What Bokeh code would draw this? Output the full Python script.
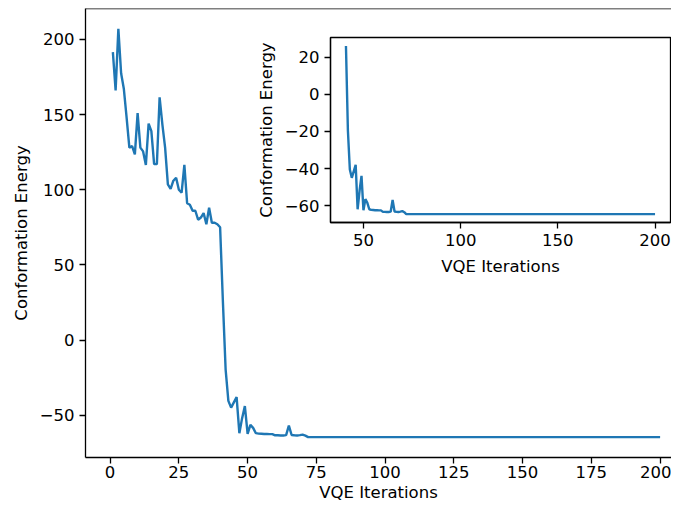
from bokeh.plotting import figure
from bokeh.models import Range1d, LinearAxis, FixedTicker, CustomJSTickFormatter
from bokeh.embed import file_html
from bokeh.resources import INLINE

# ---------------- data ----------------
iterations = list(range(1, 201))
energies = [
    191.5, 166.0, 207.0, 177.5, 167.0, 148.0, 128.0, 129.0, 123.5, 151.0,
    128.0, 125.5, 116.5, 144.0, 139.0, 117.0, 117.0, 161.5, 143.5, 128.0,
    103.5, 100.5, 106.0, 108.0, 100.0, 98.0, 116.5, 91.0, 90.0, 86.0,
    86.0, 80.0, 81.5, 84.5, 77.0, 88.0, 78.0, 78.0, 77.0, 75.0,
    26.2, -19.5, -40.5, -45.0, -41.5, -38.0, -62.0, -52.0, -44.0, -62.5,
    -56.5, -58.5, -62.0, -62.3, -62.4, -62.5, -62.5, -62.6, -62.6, -63.4,
    -63.4, -63.5, -63.5, -63.3, -57.0, -63.2, -63.4, -63.5, -63.3, -63.0,
    -63.6, -64.6, -64.6, -64.6, -64.6, -64.6, -64.6, -64.6, -64.6, -64.6,
    -64.6, -64.6, -64.6, -64.6, -64.6, -64.6, -64.6, -64.6, -64.6, -64.6,
    -64.6, -64.6, -64.6, -64.6, -64.6, -64.6, -64.6, -64.6, -64.6, -64.6,
    -64.6, -64.6, -64.6, -64.6, -64.6, -64.6, -64.6, -64.6, -64.6, -64.6,
    -64.6, -64.6, -64.6, -64.6, -64.6, -64.6, -64.6, -64.6, -64.6, -64.6,
    -64.6, -64.6, -64.6, -64.6, -64.6, -64.6, -64.6, -64.6, -64.6, -64.6,
    -64.6, -64.6, -64.6, -64.6, -64.6, -64.6, -64.6, -64.6, -64.6, -64.6,
    -64.6, -64.6, -64.6, -64.6, -64.6, -64.6, -64.6, -64.6, -64.6, -64.6,
    -64.6, -64.6, -64.6, -64.6, -64.6, -64.6, -64.6, -64.6, -64.6, -64.6,
    -64.6, -64.6, -64.6, -64.6, -64.6, -64.6, -64.6, -64.6, -64.6, -64.6,
    -64.6, -64.6, -64.6, -64.6, -64.6, -64.6, -64.6, -64.6, -64.6, -64.6,
    -64.6, -64.6, -64.6, -64.6, -64.6, -64.6, -64.6, -64.6, -64.6, -64.6,
    -64.6, -64.6, -64.6, -64.6, -64.6, -64.6, -64.6, -64.6, -64.6, -64.6,
]
main_xticks = [0, 25, 50, 75, 100, 125, 150, 175, 200]
main_yticks = [-50, 0, 50, 100, 150, 200]
inset_xticks = [50, 100, 150, 200]
inset_yticks = [-60, -40, -20, 0, 20]
inset_start = 40          # inset shows the iterations after the first 40
x_label = "VQE Iterations"
y_label = "Conformation Energy"

inset_x = iterations[inset_start:]
inset_y = energies[inset_start:]

# ---------------- layout constants (figure pixels) ----------------
FONT = "DejaVu Sans"
FS = "16.5px"
BLUE = "#1f77b4"
W, H = 671, 504
FL, FR, FT, FB = 85, 671, 8, 457          # main frame
IL, IR, IT, IB = 330, 670, 37, 222        # inset frame
PX_PER_X = 2.75

def margins(lo, hi):
    m = 0.05 * (hi - lo)
    return lo - m, hi + m

mx0, _ = margins(min(iterations), max(iterations))
mx1 = mx0 + (FR - FL) / PX_PER_X
my0, my1 = margins(min(energies), max(energies))

p = figure(width=W, height=H, output_backend="svg", toolbar_location=None,
           x_range=Range1d(mx0, mx1), y_range=Range1d(my0, my1),
           min_border_left=FL, min_border_right=W - FR,
           min_border_top=FT, min_border_bottom=H - FB,
           x_axis_label=x_label, y_axis_label=y_label)
p.outline_line_color = None
p.grid.visible = False
p.background_fill_color = "white"
p.border_fill_color = "white"

minus_fmt = "return (tick < 0 ? '\u2212' : '') + Math.abs(tick);"

def style(ax):
    ax.axis_line_color = "black"
    ax.axis_line_width = 1.3
    ax.major_tick_line_color = "black"
    ax.major_tick_line_width = 1.3
    ax.major_tick_out = 6
    ax.major_tick_in = 0
    ax.minor_tick_line_color = None
    ax.major_label_text_font = FONT
    ax.major_label_text_font_size = FS
    ax.major_label_text_color = "black"
    ax.major_label_standoff = 4
    ax.axis_label_text_font = FONT
    ax.axis_label_text_font_size = FS
    ax.axis_label_text_font_style = "normal"
    ax.axis_label_text_color = "black"
    ax.axis_label_standoff = 4
    ax.formatter = CustomJSTickFormatter(code=minus_fmt)

p.xaxis.ticker = FixedTicker(ticks=main_xticks)
p.yaxis.ticker = FixedTicker(ticks=main_yticks)
for ax in p.xaxis + p.yaxis:
    style(ax)
for ax in p.xaxis:
    ax.major_label_standoff = 2
    ax.axis_label_standoff = 2
for ax in p.yaxis:
    ax.major_label_standoff = 5
    ax.axis_label_standoff = 6

# top spine of the main axes
top = LinearAxis(fixed_location=my1, ticker=FixedTicker(ticks=[]),
                 axis_line_color="black", axis_line_width=1.3,
                 major_tick_line_color=None, minor_tick_line_color=None,
                 major_label_text_color=None)
p.add_layout(top, "above")

p.line(iterations, energies, line_color=BLUE, line_width=2.4)

# ---------------- inset (extra ranges inside the same frame) ----------------
ix0, ix1 = margins(min(inset_x), max(inset_x))
iy0, iy1 = margins(min(inset_y), max(inset_y))
sx = (IR - IL) / (ix1 - ix0)
sy = (IB - IT) / (iy1 - iy0)
p.extra_x_ranges = {"ix": Range1d(ix0 - (IL - FL) / sx, ix1 + (FR - IR) / sx)}
p.extra_y_ranges = {"iy": Range1d(iy0 - (FB - IB) / sy, iy1 + (IT - FT) / sy)}

p.quad(left=[ix0], right=[ix1], bottom=[iy0], top=[iy1],
       x_range_name="ix", y_range_name="iy",
       fill_color="white", line_color="black", line_width=1.3)
p.line(inset_x, inset_y, x_range_name="ix", y_range_name="iy",
       line_color=BLUE, line_width=2.4)

ixax = LinearAxis(x_range_name="ix", y_range_name="iy", fixed_location=iy0,
                  bounds=(ix0, ix1), ticker=FixedTicker(ticks=inset_xticks),
                  axis_label=x_label)
iyax = LinearAxis(x_range_name="ix", y_range_name="iy", fixed_location=ix0,
                  bounds=(iy0, iy1), ticker=FixedTicker(ticks=inset_yticks),
                  axis_label=y_label)
style(ixax)
style(iyax)
ixax.major_label_standoff = 5
ixax.axis_label_standoff = 8
iyax.major_label_standoff = 5
iyax.axis_label_standoff = 6
p.add_layout(ixax, "below")
p.add_layout(iyax, "left")

open("out.html", "w").write(file_html(p, INLINE))
